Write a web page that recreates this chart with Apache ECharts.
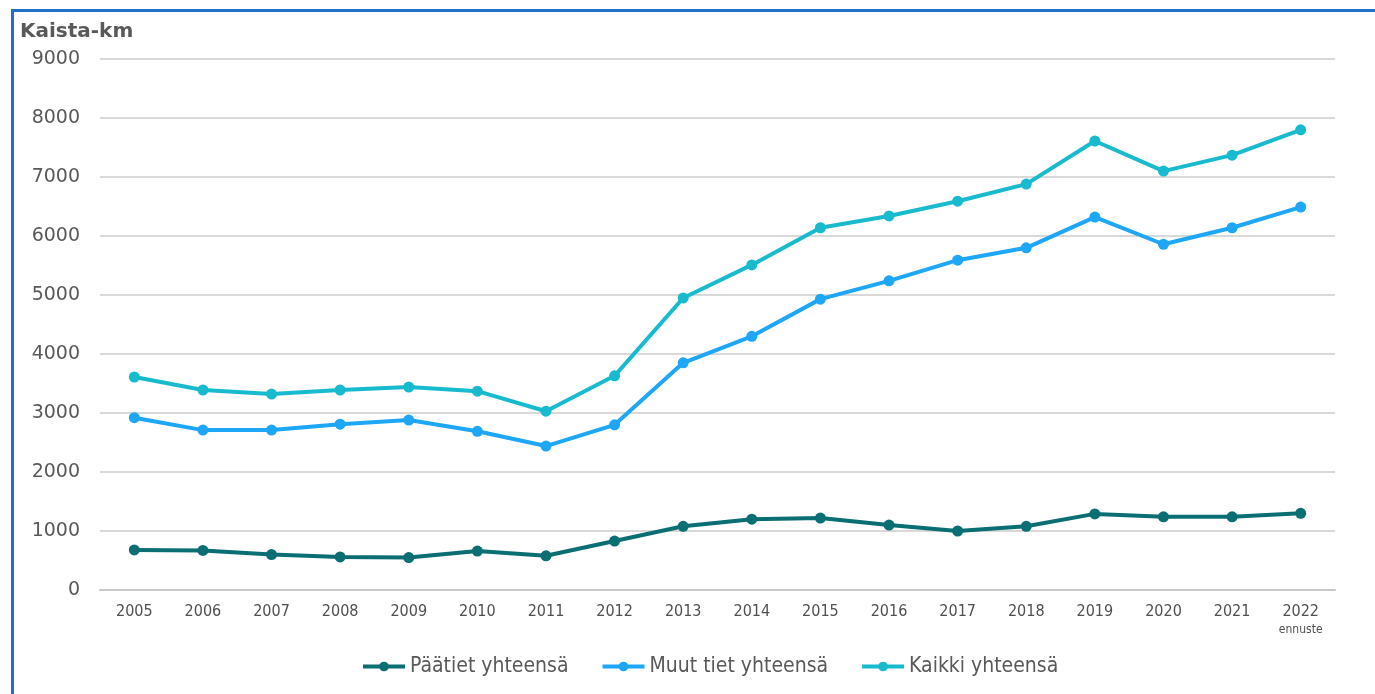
<!DOCTYPE html>
<html>
<head>
<meta charset="utf-8">
<script src="https://cdn.jsdelivr.net/npm/echarts@6/dist/echarts.min.js"></script>
<style>
  html, body { margin: 0; padding: 0; background: #fff; }
  #frame { position: absolute; left: 11px; top: 9px; width: 1364px; height: 685px;
    border-top: 3px solid #1f70c8; border-left: 3px solid #1f70c8; box-sizing: border-box; }
  #chart { position: absolute; left: 0; top: 0; width: 1375px; height: 694px; }
</style>
</head>
<body>
<div id="frame"></div>
<div id="chart"></div>
<script>
  // vuodet
  const years = ['2005', '2006', '2007', '2008', '2009', '2010', '2011', '2012', '2013',
    '2014', '2015', '2016', '2017', '2018', '2019', '2020', '2021', '2022']
  const paatiet = [680, 670, 600, 560, 550, 660, 580, 830, 1080, 1200, 1220, 1100, 1000, 1080, 1290, 1240, 1240, 1300]
  const muutTiet = [2920, 2710, 2710, 2810, 2880, 2690, 2440, 2800, 3850, 4300, 4930, 5240, 5590, 5800, 6320, 5860, 6140, 6490]
  const kaikki = [3610, 3390, 3320, 3390, 3440, 3370, 3030, 3630, 4950, 5510, 6140, 6340, 6590, 6880, 7610, 7100, 7370, 7800]
  const yTicks = [0, 1000, 2000, 3000, 4000, 5000, 6000, 7000, 8000, 9000]

  const chart = echarts.init(document.getElementById('chart'))

  const mkSeries = (name, data, color) => ({
    name: name,
    type: 'line',
    data: data,
    symbol: 'circle',
    symbolSize: 11,
    color: color,
    lineStyle: { width: 4, color: color },
    itemStyle: { color: color },
    animation: false
  })

  chart.setOption({
    textStyle: { fontFamily: 'DejaVu Sans' },
    title: {
      text: 'Kaista-km',
      left: 15,
      top: 17,
      textStyle: { fontSize: 20, fontWeight: 'bold', color: '#595959', fontFamily: 'DejaVu Sans' }
    },
    grid: {
      left: 100,
      right: 40,
      top: 59,
      bottom: 104,
      containLabel: false
    },
    xAxis: {
      type: 'category',
      data: years,
      boundaryGap: true,
      axisLine: { lineStyle: { color: '#c8c8c8', width: 2 } },
      axisTick: { show: false },
      axisLabel: {
        color: '#505050',
        fontSize: 16,
        fontFamily: 'DejaVu Sans Condensed, DejaVu Sans',
        margin: 14,
        interval: 0,
        formatter: function (v) {
          return v === '2022' ? v + '\n{s|ennuste}' : v
        },
        rich: {
          s: { fontSize: 12, color: '#505050', padding: [4, 0, 0, 0], fontFamily: 'DejaVu Sans Condensed, DejaVu Sans' }
        }
      }
    },
    yAxis: {
      type: 'value',
      min: yTicks[0],
      max: yTicks[yTicks.length - 1],
      interval: 1000,
      axisLine: { show: false },
      axisTick: { show: false },
      splitLine: { lineStyle: { color: '#d9d9d9', width: 2 } },
      axisLabel: { color: '#595959', fontSize: 19, margin: 20, formatter: v => String(v) }
    },
    legend: {
      bottom: 12,
      left: 356,
      itemWidth: 42,
      itemHeight: 12,
      itemGap: 32,
      lineStyle: { width: 4 },
      textStyle: { fontSize: 21, color: '#595959', fontFamily: 'DejaVu Sans Condensed, DejaVu Sans' },
      data: ['Päätiet yhteensä', 'Muut tiet yhteensä', 'Kaikki yhteensä']
    },
    series: [
      mkSeries('Päätiet yhteensä', paatiet, '#0a6e73'),
      mkSeries('Muut tiet yhteensä', muutTiet, '#1ea6f7'),
      mkSeries('Kaikki yhteensä', kaikki, '#18bace')
    ]
  })
</script>
</body>
</html>
